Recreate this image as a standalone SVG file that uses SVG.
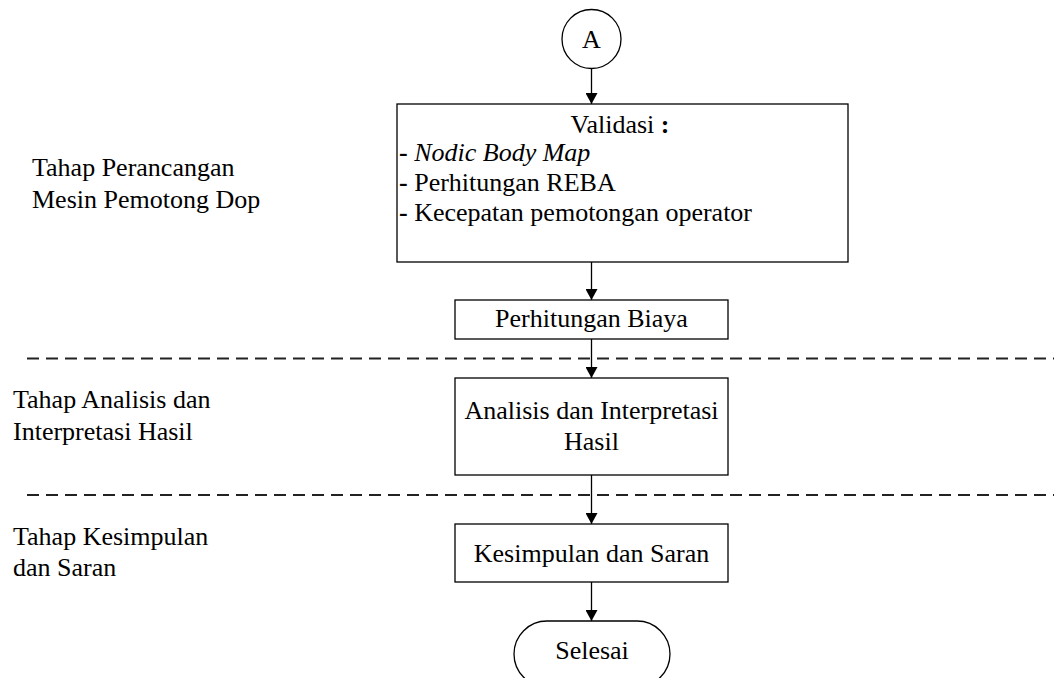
<svg xmlns="http://www.w3.org/2000/svg" width="1054" height="678" viewBox="0 0 1054 678">
<style>
text{font-family:"Liberation Serif","Times New Roman",serif;font-size:26px;fill:#000}
.c{text-anchor:middle}
.box{fill:#fff;stroke:#000;stroke-width:1.3}
.ln{stroke:#000;stroke-width:1.3;fill:none}
.dash{stroke:#222;stroke-width:2;stroke-dasharray:12 7;fill:none}
</style>
<defs>
<marker id="ah" markerWidth="12" markerHeight="12" refX="11" refY="6" orient="auto" markerUnits="userSpaceOnUse">
<path d="M0,0 L11,6 L0,12 Z" fill="#000"/>
</marker>
</defs>
<rect width="1054" height="678" fill="#fff"/>
<g id="lanes">
<line class="dash" x1="27" y1="358.5" x2="1054" y2="358.5"/>
<line class="dash" x1="27" y1="495" x2="1054" y2="495"/>
<text x="32" y="176">Tahap Perancangan</text>
<text x="32" y="208">Mesin Pemotong Dop</text>
<text x="13" y="408">Tahap Analisis dan</text>
<text x="13" y="440">Interpretasi Hasil</text>
<text x="13" y="545">Tahap Kesimpulan</text>
<text x="13" y="576">dan Saran</text>
</g>
<g id="connectors">
<line class="ln" x1="591.5" y1="68.5" x2="591.5" y2="104" marker-end="url(#ah)"/>
<line class="ln" x1="591.5" y1="262" x2="591.5" y2="300" marker-end="url(#ah)"/>
<line class="ln" x1="591.5" y1="339" x2="591.5" y2="378" marker-end="url(#ah)"/>
<line class="ln" x1="591.5" y1="475" x2="591.5" y2="524" marker-end="url(#ah)"/>
<line class="ln" x1="591.5" y1="582" x2="591.5" y2="621" marker-end="url(#ah)"/>
</g>
<g id="nodeA">
<circle class="box" cx="591.5" cy="39" r="29.5"/>
<text class="c" x="591.5" y="48">A</text>
</g>
<g id="validasi">
<rect class="box" x="397" y="104" width="451" height="158"/>
<text class="c" x="620" y="133">Validasi <tspan font-weight="bold">:</tspan></text>
<text x="399" y="161"><tspan font-weight="bold">-</tspan> <tspan font-style="italic">Nodic Body Map</tspan></text>
<text x="399" y="191"><tspan font-weight="bold">-</tspan> Perhitungan REBA</text>
<text x="399" y="221"><tspan font-weight="bold">-</tspan> Kecepatan pemotongan operator</text>
</g>
<g id="biaya">
<rect class="box" x="455" y="300" width="273" height="39"/>
<text class="c" x="591.5" y="327">Perhitungan Biaya</text>
</g>
<g id="analisis">
<rect class="box" x="455" y="378" width="273" height="97"/>
<text class="c" x="591.5" y="419">Analisis dan Interpretasi</text>
<text class="c" x="591.5" y="450">Hasil</text>
</g>
<g id="kesimpulan">
<rect class="box" x="455" y="524" width="273" height="58"/>
<text class="c" x="591.5" y="562">Kesimpulan dan Saran</text>
</g>
<g id="selesai">
<rect class="box" x="514" y="621" width="156" height="66" rx="33" ry="33"/>
<text class="c" x="592" y="659">Selesai</text>
</g>
</svg>
